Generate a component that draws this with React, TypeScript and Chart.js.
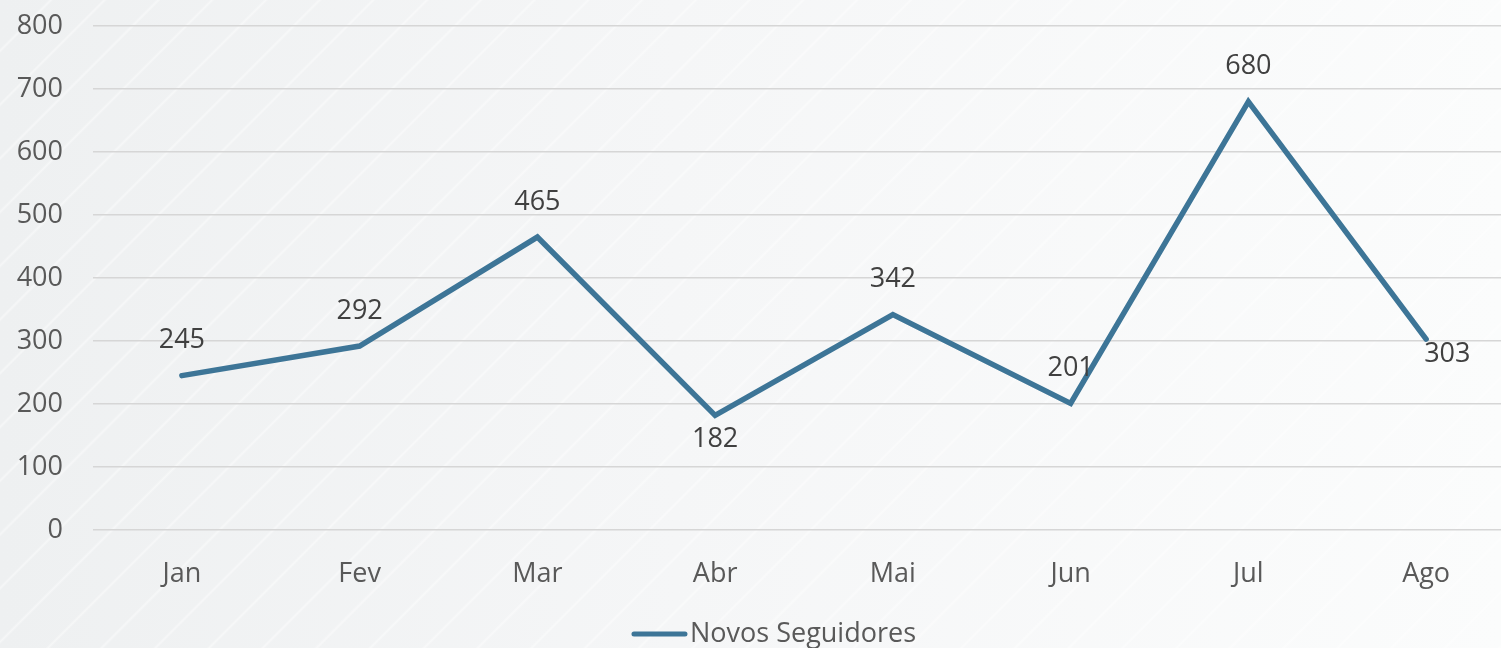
import React, { useEffect, useRef } from "react";
import { Chart, registerables } from "chart.js";

Chart.register(...registerables);

const months = ["Jan", "Fev", "Mar", "Abr", "Mai", "Jun", "Jul", "Ago"];
const novosSeguidores = [245, 292, 465, 182, 342, 201, 680, 303];
const labelPlacement = ["above", "above", "above", "below", "above", "above", "above", "right"];
const seriesName = "Novos Seguidores";
const yTickMin = 0;
const yTickMax = 800;
const yTickStep = 100;

const FONT = "'Open Sans', 'Noto Sans', sans-serif";
const LINE_COLOR = "#3D7597";

const labelsPlugin = {
  id: "customLabels",
  afterDatasetsDraw(chart: any) {
    const ctx = chart.ctx;
    const meta = chart.getDatasetMeta(0);
    ctx.save();
    ctx.font = `27px ${FONT}`;
    ctx.fillStyle = "#404040";
    meta.data.forEach((pt: any, i: number) => {
      const v = chart.data.datasets[0].data[i];
      const place = labelPlacement[i];
      let x = pt.x;
      let y = pt.y;
      ctx.textAlign = "center";
      ctx.textBaseline = "middle";
      if (place === "above") y -= 35;
      else if (place === "below") y += 24;
      else if (place === "right") {
        ctx.textAlign = "left";
        x -= 2;
        y += 15;
      }
      ctx.fillText(String(v), x, y);
    });
    ctx.restore();
  },
  afterDraw(chart: any) {
    const ctx = chart.ctx;
    ctx.save();
    ctx.font = `27px ${FONT}`;
    const tw = ctx.measureText(seriesName).width;
    const lineLen = 55;
    const gap = 3;
    const total = lineLen + gap + tw;
    const cx = chart.width / 2;
    const x0 = cx - total / 2;
    const y = 634;
    ctx.strokeStyle = LINE_COLOR;
    ctx.lineWidth = 5;
    ctx.lineCap = "round";
    ctx.beginPath();
    ctx.moveTo(x0 + 2, y);
    ctx.lineTo(x0 + lineLen - 2, y);
    ctx.stroke();
    ctx.fillStyle = "#595959";
    ctx.textAlign = "left";
    ctx.textBaseline = "middle";
    ctx.fillText(seriesName, x0 + lineLen + gap, y);
    ctx.restore();
  },
};

export default function App() {
  const ref = useRef<HTMLCanvasElement | null>(null);

  useEffect(() => {
    document.body.style.margin = "0";
    const canvas = ref.current;
    if (!canvas) return;
    const chart = new Chart(canvas, {
      type: "line",
      data: {
        labels: months,
        datasets: [
          {
            label: seriesName,
            data: novosSeguidores,
            borderColor: LINE_COLOR,
            backgroundColor: LINE_COLOR,
            borderWidth: 5.5,
            borderCapStyle: "round",
            borderJoinStyle: "miter",
            pointRadius: 0,
            pointHoverRadius: 0,
            tension: 0,
            fill: false,
          },
        ],
      },
      options: {
        responsive: false,
        animation: false,
        devicePixelRatio: 1,
        layout: { padding: { top: 26, right: 33, bottom: 48, left: 0 } },
        plugins: {
          legend: { display: false },
          tooltip: { enabled: false },
          title: { display: false },
        },
        scales: {
          x: {
            offset: true,
            grid: { display: false, drawTicks: false },
            border: { display: false },
            ticks: {
              padding: 28,
              color: "#595959",
              font: { family: FONT, size: 27 },
            },
            afterFit(scale: any) {
              scale.height = 70;
            },
          },
          y: {
            min: yTickMin,
            max: yTickMax,
            grid: { color: "#D6D6D6", lineWidth: 1.5, drawTicks: false },
            border: { display: false },
            ticks: {
              stepSize: yTickStep,
              padding: 30,
              color: "#595959",
              font: { family: FONT, size: 27 },
            },
            afterFit(scale: any) {
              scale.width = 93;
              scale.paddingTop = 0;
              scale.paddingBottom = 0;
            },
          },
        },
      },
      plugins: [labelsPlugin],
    });
    return () => chart.destroy();
  }, []);

  return (
    <div
      style={{
        position: "absolute",
        left: 0,
        top: 0,
        width: 1501,
        height: 648,
        overflow: "hidden",
        background:
          "repeating-linear-gradient(135deg, rgba(255,255,255,0) 0px, rgba(255,255,255,0) 34px, rgba(255,255,255,0.45) 36px, rgba(255,255,255,0) 38px), linear-gradient(90deg, #eef0f1 0%, #f5f6f7 45%, #fbfcfc 100%)",
      }}
    >
      <canvas ref={ref} width={1548} height={648} style={{ display: "block" }} />
    </div>
  );
}
